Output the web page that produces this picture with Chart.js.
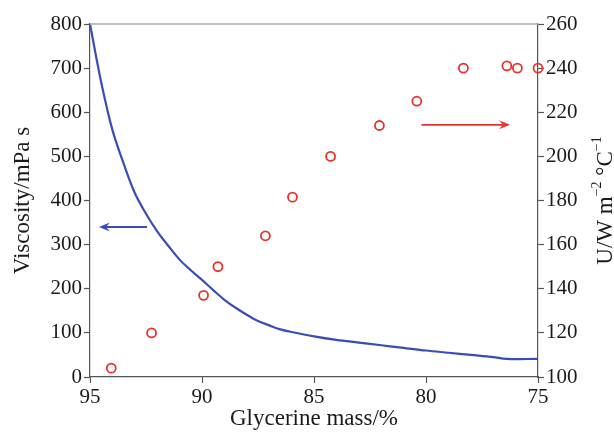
<!DOCTYPE html>
<html>
<head>
<meta charset="utf-8">
<script src="https://cdn.jsdelivr.net/npm/chart.js@4"></script>
<style>
  html, body { margin: 0; padding: 0; background: #fff; }
  #wrap { position: relative; width: 614px; height: 434px; }
</style>
</head>
<body>
<div id="wrap"><canvas id="c"></canvas></div>
<script>
// viscosity curve (left axis)
const massV = [95, 94.5, 94, 93.5, 93, 92.5, 92, 91.5, 91, 90.5, 90, 89.5, 89, 88.5, 88, 87.5, 87, 86.5, 86, 85, 84, 83, 82, 81, 80, 79, 78, 77, 76.4, 75];
const visc = [800, 668, 560, 484, 417, 370, 330, 297, 266, 242, 220, 197, 175, 157, 141, 127, 117, 108, 102, 92, 84, 78, 72, 66, 60, 55, 50, 45, 41, 41];

// overall heat transfer coefficient (right axis)
const massU = [94.05, 92.25, 89.93, 89.29, 87.17, 85.96, 84.26, 82.08, 80.41, 78.33, 76.39, 75.92, 75.0];
const uVal = [104, 120, 137, 150, 164, 181.5, 200, 214, 225, 240, 241, 240, 240];

const xTicks = [95, 90, 85, 80, 75];

const BLUE = '#3a4db4';
const RED = '#e8322c';
const FONT = "'Liberation Serif', 'DejaVu Serif', serif";

// arrows pointing to each series' axis, in data units
const arrows = [
  { axis: 'y', from: [92.45, 340], to: [94.6, 340], color: BLUE },
  { axis: 'y2', from: [80.2, 214.3], to: [76.25, 214.3], color: RED }
];

const extras = {
  id: 'extras',
  afterDraw(chart) {
    const ctx = chart.ctx;
    const a = chart.chartArea;
    const xs = chart.scales.x;

    // top frame line
    ctx.save();
    ctx.strokeStyle = '#a8a8a8';
    ctx.lineWidth = 1.5;
    ctx.beginPath();
    ctx.moveTo(a.left, a.top);
    ctx.lineTo(a.right, a.top);
    ctx.stroke();

    // arrows
    arrows.forEach(ar => {
      const ys = chart.scales[ar.axis];
      const x1 = xs.getPixelForValue(ar.from[0]), y1 = ys.getPixelForValue(ar.from[1]);
      const x2 = xs.getPixelForValue(ar.to[0]), y2 = ys.getPixelForValue(ar.to[1]);
      const dir = Math.sign(x2 - x1);
      ctx.strokeStyle = ar.color;
      ctx.fillStyle = ar.color;
      ctx.lineWidth = 1.8;
      ctx.beginPath();
      ctx.moveTo(x1, y1);
      ctx.lineTo(x2 - dir * 4, y2);
      ctx.stroke();
      ctx.beginPath();
      ctx.moveTo(x2, y2);
      ctx.lineTo(x2 - dir * 11, y2 - 4.5);
      ctx.lineTo(x2 - dir * 7, y2);
      ctx.lineTo(x2 - dir * 11, y2 + 4.5);
      ctx.closePath();
      ctx.fill();
    });

    // right axis title, reading bottom to top, with superscripts
    const parts = [
      { t: 'U/W m', sup: false },
      { t: '\u22122', sup: true },
      { t: ' \u00B0C', sup: false },
      { t: '\u22121', sup: true }
    ];
    const mainF = '23px ' + FONT, supF = '14px ' + FONT;
    let total = 0;
    parts.forEach(p => { ctx.font = p.sup ? supF : mainF; p.w = ctx.measureText(p.t).width; total += p.w; });
    ctx.translate(612, (a.top + a.bottom) / 2);
    ctx.rotate(-Math.PI / 2);
    ctx.fillStyle = '#1a1a1a';
    ctx.textBaseline = 'alphabetic';
    ctx.textAlign = 'left';
    let cx = -total / 2;
    parts.forEach(p => {
      ctx.font = p.sup ? supF : mainF;
      ctx.fillText(p.t, cx, p.sup ? -11 : 0);
      cx += p.w;
    });
    ctx.restore();
  }
};

const axisCommon = {
  border: { display: true, color: '#555', width: 1.2 },
  grid: { drawOnChartArea: false, drawTicks: true, tickLength: 6, color: '#555', tickWidth: 1.2 },
  ticks: { color: '#1a1a1a', font: { family: FONT, size: 21 }, padding: 2 }
};

new Chart(document.getElementById('c'), {
  type: 'scatter',
  data: {
    datasets: [
      {
        label: 'Viscosity',
        type: 'line',
        data: massV.map((m, i) => ({ x: m, y: visc[i] })),
        yAxisID: 'y',
        borderColor: BLUE,
        borderWidth: 2.2,
        pointRadius: 0,
        fill: false,
        tension: 0.35
      },
      {
        label: 'U',
        data: massU.map((m, i) => ({ x: m, y: uVal[i] })),
        yAxisID: 'y2',
        borderColor: RED,
        backgroundColor: 'rgba(0,0,0,0)',
        borderWidth: 1.8,
        pointRadius: 4.5,
        pointHoverRadius: 4.5,
        clip: false
      }
    ]
  },
  options: {
    responsive: true,
    maintainAspectRatio: false,
    animation: false,
    layout: { padding: { top: 24, left: 0, right: 0, bottom: 0 } },
    plugins: { legend: { display: false }, tooltip: { enabled: false } },
    scales: {
      x: {
        ...axisCommon,
        type: 'linear',
        reverse: true,
        min: 75,
        max: 95,
        afterBuildTicks: s => { s.ticks = xTicks.map(v => ({ value: v })); },
        afterFit: s => { s.height = 57; },
        ticks: { ...axisCommon.ticks, maxRotation: 0 },
        title: { display: true, text: 'Glycerine mass/%', color: '#1a1a1a', font: { family: FONT, size: 23 }, padding: { top: 0, bottom: 1 } }
      },
      y: {
        ...axisCommon,
        position: 'left',
        min: 0,
        max: 800,
        ticks: { ...axisCommon.ticks, stepSize: 100 },
        afterFit: s => { s.width = 90; },
        title: { display: true, text: 'Viscosity/mPa s', color: '#1a1a1a', font: { family: FONT, size: 23 }, padding: { top: 9, bottom: 0 } }
      },
      y2: {
        ...axisCommon,
        position: 'right',
        min: 100,
        max: 260,
        ticks: { ...axisCommon.ticks, stepSize: 20 },
        afterFit: s => { s.width = 76; }
      }
    }
  },
  plugins: [extras]
});
</script>
</body>
</html>
